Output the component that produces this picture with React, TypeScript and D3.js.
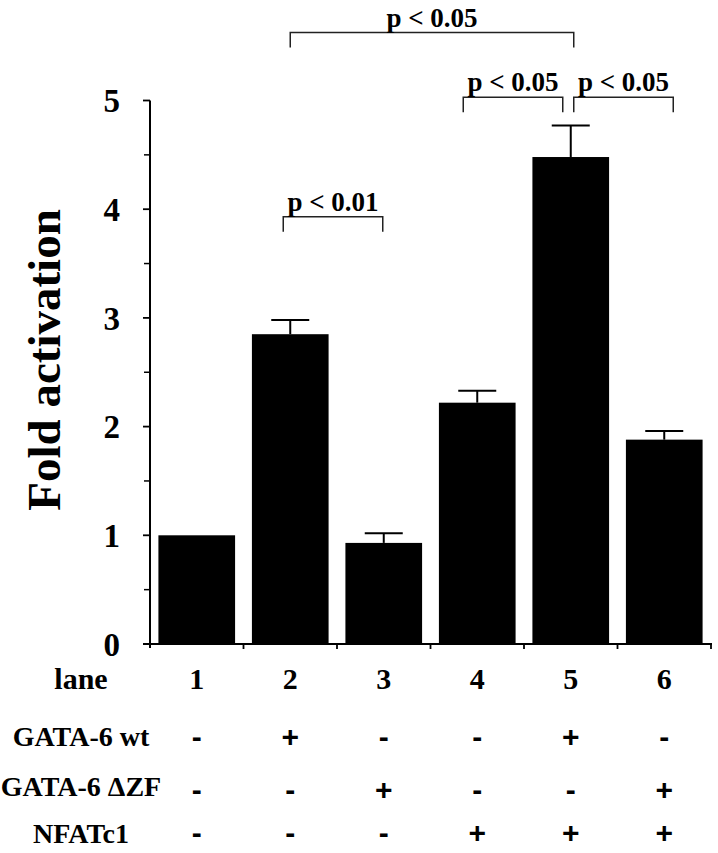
import React from "react";
import * as d3 from "d3";

const lanes = ["1", "2", "3", "4", "5", "6"];
const foldValues = [1.0, 2.85, 0.93, 2.22, 4.48, 1.88];
const foldErrors = [0, 0.13, 0.09, 0.11, 0.29, 0.08];
const yTicks = [0, 1, 2, 3, 4, 5];
const yMinorTicks = [0.5, 1.5, 2.5, 3.5, 4.5];
const rowLabels = ["GATA-6 wt", "GATA-6 \u0394ZF", "NFATc1"];
const gata6wt = ["-", "+", "-", "-", "+", "-"];
const gata6dzf = ["-", "-", "+", "-", "-", "+"];
const nfatc1 = ["-", "-", "-", "+", "+", "+"];
const brackets = [
  { from: "2", to: "5", level: 5.625, label: "p < 0.05", dx1: 0, dx2: 3 },
  { from: "4", to: "5", level: 5.03, label: "p < 0.05", dx1: -14, dx2: -8 },
  { from: "5", to: "6", level: 5.03, label: "p < 0.05", dx1: 3, dx2: 9 },
  { from: "2", to: "3", level: 3.93, label: "p < 0.01", dx1: -7, dx2: -1 },
];

const serif = "'Liberation Serif', 'Times New Roman', serif";
const sans = "'Liberation Sans', Arial, sans-serif";

export default function App() {
  const W = 718;
  const H = 853;
  const x = d3.scaleBand<string>().domain(lanes).range([150, 711]).paddingInner(0.18).paddingOuter(0.09);
  const y = d3.scaleLinear().domain([0, 5]).range([644, 100.5]);
  const step = x.step();
  const cx = (l: string) => (x(l) as number) + x.bandwidth() / 2;
  const boundaries = lanes.map((_, i) => 150 + step * (i + 1));
  const rows = [gata6wt, gata6dzf, nfatc1];
  const rowBaselines = [746, 796, 843];
  const signCenters = [736, 789, 832];

  return (
    <svg width={W} height={H} style={{ position: "absolute", left: 0, top: 0, background: "#fff" }}>
      <rect x={0} y={0} width={W} height={H} fill="#fff" />
      {/* bars */}
      {lanes.map((l, i) => (
        <rect key={"b" + l} x={x(l)} y={y(foldValues[i])} width={x.bandwidth()} height={y(0) - y(foldValues[i])} fill="#000" />
      ))}
      {/* error bars */}
      {lanes.map((l, i) =>
        foldErrors[i] > 0 ? (
          <g key={"e" + l} stroke="#000" strokeWidth={2}>
            <line x1={cx(l)} x2={cx(l)} y1={y(foldValues[i])} y2={y(foldValues[i] + foldErrors[i])} />
            <line x1={cx(l) - 19} x2={cx(l) + 19} y1={y(foldValues[i] + foldErrors[i])} y2={y(foldValues[i] + foldErrors[i])} />
          </g>
        ) : null
      )}
      {/* y axis */}
      <line x1={150} x2={150} y1={y(5)} y2={y(0) + 4} stroke="#000" strokeWidth={2} />
      {yTicks.map((t) => (
        <g key={"yt" + t}>
          <line x1={143} x2={150} y1={y(t)} y2={y(t)} stroke="#000" strokeWidth={1.8} />
          <text x={120} y={y(t)} dy="0.36em" textAnchor="end" fontFamily={serif} fontWeight="bold" fontSize={33}>
            {t}
          </text>
        </g>
      ))}
      {yMinorTicks.map((t) => (
        <line key={"ym" + t} x1={144} x2={150} y1={y(t)} y2={y(t)} stroke="#000" strokeWidth={1.5} />
      ))}
      {/* x axis */}
      <line x1={143} x2={712} y1={y(0)} y2={y(0)} stroke="#000" strokeWidth={2} />
      {boundaries.map((b, i) => (
        <line key={"xt" + i} x1={b} x2={b} y1={y(0)} y2={y(0) + 5} stroke="#000" strokeWidth={1.8} />
      ))}
      {/* y label */}
      <text
        transform={`translate(60, 360) rotate(-90)`}
        textAnchor="middle"
        fontFamily={serif}
        fontWeight="bold"
        fontSize={47}
      >
        Fold activation
      </text>
      {/* significance brackets */}
      {brackets.map((b, i) => {
        const x1 = cx(b.from) + b.dx1;
        const x2 = cx(b.to) + b.dx2;
        const yy = y(b.level);
        return (
          <g key={"br" + i}>
            <path d={`M${x1},${yy + 15}V${yy}H${x2}V${yy + 15}`} fill="none" stroke="#222" strokeWidth={1.5} />
            <text x={(x1 + x2) / 2} y={yy - 6} textAnchor="middle" fontFamily={serif} fontWeight="bold" fontSize={27}>
              {b.label}
            </text>
          </g>
        );
      })}
      {/* table */}
      <text x={81} y={689} textAnchor="middle" fontFamily={serif} fontWeight="bold" fontSize={30}>
        lane
      </text>
      {lanes.map((l) => (
        <text key={"ln" + l} x={cx(l)} y={689} textAnchor="middle" fontFamily={serif} fontWeight="bold" fontSize={30}>
          {l}
        </text>
      ))}
      {rowLabels.map((r, ri) => (
        <g key={"row" + ri}>
          <text x={81} y={rowBaselines[ri]} textAnchor="middle" fontFamily={serif} fontWeight="bold" fontSize={28}>
            {r}
          </text>
          {rows[ri].map((s, li) => (
            <text
              key={"s" + li}
              x={cx(lanes[li])}
              y={signCenters[ri]}
              dominantBaseline="central"
              textAnchor="middle"
              fontFamily={sans}
              fontWeight="bold"
              fontSize={30}
            >
              {s}
            </text>
          ))}
        </g>
      ))}
    </svg>
  );
}
